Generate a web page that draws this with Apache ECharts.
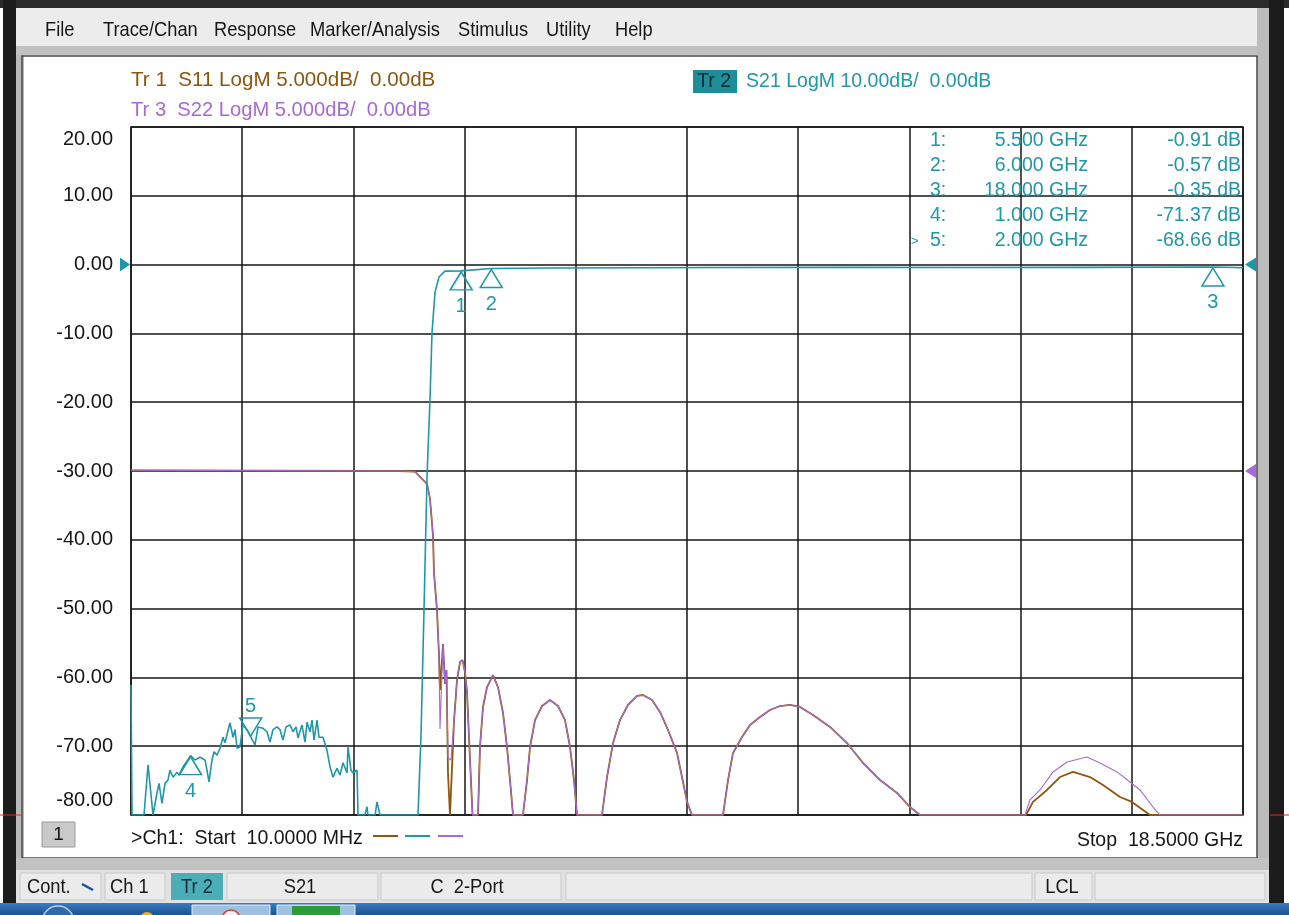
<!DOCTYPE html>
<html><head><meta charset="utf-8">
<script src="https://cdn.jsdelivr.net/npm/echarts@6/dist/echarts.min.js"></script>
<style>html,body{margin:0;padding:0;background:#fff;overflow:hidden}#c{width:1289px;height:915px}</style>
</head><body><div id="c"></div>
<script>
// ---------------- data ----------------
const s21Freq = [0.01,0.027,0.226,0.293,0.376,0.442,0.476,0.525,0.575,0.625,0.658,0.708,0.775,0.808,0.875,1.0,1.074,1.157,1.240,1.274,1.307,1.357,1.390,1.440,1.490,1.540,1.573,1.656,1.706,1.739,1.773,1.822,1.872,1.939,2.0,2.072,2.122,2.205,2.271,2.321,2.371,2.438,2.488,2.537,2.587,2.654,2.704,2.754,2.787,2.853,2.903,2.937,2.987,3.020,3.053,3.103,3.136,3.203,3.269,3.319,3.369,3.436,3.485,3.535,3.602,3.618,3.668,3.701,3.768,3.785,3.90,3.934,3.951,4.07,4.100,4.150,4.782,4.832,4.882,4.932,4.982,5.015,5.065,5.131,5.231,5.5,6.0,7.0,8.5,10.0,12.0,14.0,16.0,18.0,18.5];
const s21dB = [-61.1,-80,-80,-72.7,-80,-76.8,-75.4,-78.3,-75.4,-74.9,-73.5,-74.5,-73.8,-74.2,-73.0,-71.37,-72.0,-71.6,-72.0,-73.5,-75.2,-72.0,-70.8,-71.3,-70.3,-68.7,-69.5,-66.6,-68.7,-67.6,-70.3,-70.1,-66.9,-67.6,-68.66,-69.8,-67.2,-67.4,-67.9,-69.4,-67.6,-67.2,-67.6,-69.1,-67.2,-66.9,-67.9,-67.2,-68.8,-66.9,-69.4,-66.5,-67.9,-66.2,-69.1,-66.2,-68.7,-68.7,-70.6,-73.0,-74.5,-73.2,-74.2,-72.4,-73.9,-70.1,-73.5,-73.9,-73.5,-80,-80,-78.8,-80,-80,-78.1,-80,-80,-68.5,-50.2,-30.9,-19.5,-9.9,-4.0,-1.8,-0.95,-0.91,-0.57,-0.5,-0.45,-0.42,-0.4,-0.42,-0.4,-0.35,-0.45];

const s22Freq = [0.01,4.483,4.732,4.849,4.932,4.982,5.032,5.048,5.098,5.131,5.148,5.198,5.231,5.256,5.281,5.331,5.381,5.431,5.481,5.522,5.564,5.597,5.647,5.689,5.780,
  5.813,5.863,5.930,6.029,6.112,6.196,6.262,6.312,6.362,
  6.528,6.595,6.645,6.728,6.844,6.977,7.110,7.227,7.310,7.376,7.426,
  7.842,7.925,8.025,8.141,8.274,8.424,8.524,8.673,8.806,8.939,9.089,9.172,9.255,9.338,
  9.854,9.937,10.020,10.170,10.303,10.469,10.636,10.802,10.968,11.134,11.350,11.633,11.916,12.182,12.464,12.747,12.963,13.129,
  14.875,14.958,15.125,15.341,15.574,15.906,16.122,16.405,16.621,16.787,17.004,17.120,18.5];
const s22dB = [0.05,0.0,-0.05,-0.58,-0.94,-2.03,-4.72,-7.41,-10.10,-13.37,-18.75,-12.57,-15.48,-14.46,-20.86,-21.0,-18.17,-15.19,-13.88,-13.74,-14.61,-16.06,-21.0,-25,-25,
  -20.06,-17.15,-15.70,-14.83,-15.70,-17.59,-20.06,-22.46,-25,
  -25,-22.46,-20.06,-18.10,-17.08,-16.64,-17.08,-18.10,-20.06,-22.46,-25,
  -25,-22.24,-19.77,-18.10,-17.0,-16.35,-16.28,-16.64,-17.51,-18.82,-20.49,-22.24,-24.05,-25,
  -25,-22.46,-20.49,-19.33,-18.46,-17.88,-17.37,-17.08,-17.0,-17.15,-17.73,-18.6,-19.77,-21.22,-22.46,-23.40,-24.42,-25,
  -25,-23.9,-23.18,-21.87,-21.15,-20.79,-21.22,-21.87,-22.60,-23.18,-24.42,-25,-25];

const s11Freq = [0.01,4.483,4.732,4.849,4.932,4.982,5.032,5.048,5.098,5.131,5.148,5.198,5.231,5.256,5.281,5.314,5.381,5.431,5.481,5.522,5.564,5.597,5.647,5.689,5.780,
  5.813,5.863,5.930,6.029,6.112,6.196,6.262,6.312,6.362,
  6.528,6.595,6.645,6.728,6.844,6.977,7.110,7.227,7.310,7.376,7.426,
  7.842,7.925,8.025,8.141,8.274,8.424,8.524,8.673,8.806,8.939,9.089,9.172,9.255,9.338,
  9.854,9.937,10.020,10.170,10.303,10.469,10.636,10.802,10.968,11.134,11.350,11.633,11.916,12.182,12.464,12.747,12.963,13.129,
  14.892,15.008,15.241,15.457,15.674,15.956,16.172,16.455,16.654,16.837,16.953,18.5];
const s11dB = [0.05,0.0,-0.05,-0.58,-0.94,-2.03,-4.72,-7.41,-10.10,-13.37,-15.92,-12.57,-15.48,-14.46,-22.0,-25,-18.17,-15.19,-13.88,-13.74,-14.61,-16.06,-21.0,-25,-25,
  -20.06,-17.15,-15.70,-14.83,-15.70,-17.59,-20.06,-22.46,-25,
  -25,-22.46,-20.06,-18.10,-17.08,-16.64,-17.08,-18.10,-20.06,-22.46,-25,
  -25,-22.24,-19.77,-18.10,-17.0,-16.35,-16.28,-16.64,-17.51,-18.82,-20.49,-22.24,-24.05,-25,
  -25,-22.46,-20.49,-19.33,-18.46,-17.88,-17.37,-17.08,-17.0,-17.15,-17.73,-18.6,-19.77,-21.22,-22.46,-23.40,-24.42,-25,
  -25,-24.05,-23.18,-22.24,-21.87,-22.24,-22.82,-23.69,-24.05,-24.64,-25,-25];

const markerNums = ['1','2','3','4','5'];
const markerFreqGHz = [5.5, 6.0, 18.0, 1.0, 2.0];
const markerDB = [-0.91, -0.57, -0.35, -71.37, -68.66];
const markerFreqText = ['5.500 GHz','6.000 GHz','18.000 GHz','1.000 GHz','2.000 GHz'];
const markerValText = ['-0.91 dB','-0.57 dB','-0.35 dB','-71.37 dB','-68.66 dB'];

const menuItems = ['File','Trace/Chan','Response','Marker/Analysis','Stimulus','Utility','Help'];
const traceHeaders = ['Tr 1  S11 LogM 5.000dB/  0.00dB','S21 LogM 10.00dB/  0.00dB','Tr 3  S22 LogM 5.000dB/  0.00dB'];
const yTickMin = -80, yTickMax = 20, yTickStep = 10;

// ---------------- layout / style ----------------
const TEAL = '#1e98a8', BROWN = '#8e560f', PURPLE = '#a66ad6', INK = '#161616';
const FF = '"Liberation Sans", Arial, sans-serif';
const menuX = [45,103,214,310,458,546,615];

const zip = (a,b) => a.map((v,i)=>[v,b[i]]);
const upTri = 'path://M10,0 L20,18 L0,18 Z';
const downTri = 'path://M0,0 L20,0 L10,18 Z';

function txt(text, x, y, o) {
  o = o || {};
  return {type:'text', x:x, y:y, scaleX:o.sx||1, z:50,
    style:{text:text, fill:o.c||INK, fontSize:o.fs||20, fontFamily:FF, fontWeight:o.w||'normal',
      align:o.a||'left', verticalAlign:'middle'}};
}
function rect(x,y,w,h,fill,stroke,lw,z){
  return {type:'rect', shape:{x:x,y:y,width:w,height:h}, z:z||1,
    style:{fill:fill||'none', stroke:stroke||null, lineWidth:lw||1}};
}
function line(x1,y1,x2,y2,c,w,z){
  return {type:'line', shape:{x1:x1,y1:y1,x2:x2,y2:y2}, z:z||40, style:{stroke:c,lineWidth:w||1}};
}

const chart = echarts.init(document.getElementById('c'), null, {renderer:'canvas', width:1289, height:915});

const markerData = markerNums.map((n,i)=>({
  name:n, coord:[markerFreqGHz[i], markerDB[i]],
  symbol: i===4 ? downTri : upTri,
  symbolSize:[22,18],
  symbolOffset: i===4 ? [0,-10] : [0,10],
  label:{position: i===4 ? 'top' : 'bottom', distance: i===4 ? 1 : 6}
}));

const option = {
  animation:false,
  backgroundColor:'#ffffff',
  grid:{left:131, top:127, width:1112, height:688, show:true, borderColor:INK, borderWidth:1.5, backgroundColor:'transparent'},
  xAxis:[
    {type:'value', min:0.01, max:18.5, show:false},
    {type:'value', min:0, max:10, interval:1, position:'bottom',
     axisLine:{show:false}, axisTick:{show:false}, axisLabel:{show:false},
     splitLine:{show:true, lineStyle:{color:INK, width:1.5}}}
  ],
  yAxis:[
    {type:'value', min:yTickMin, max:yTickMax, interval:yTickStep,
     axisLine:{show:false}, axisTick:{show:false},
     axisLabel:{show:true, showMinLabel:true, showMaxLabel:true, margin:18, color:INK, fontSize:20, fontFamily:FF,
       formatter:function(v){
         if (v===yTickMax) return '{t|'+v.toFixed(2)+'}';
         if (v===yTickMin) return '{b|'+v.toFixed(2)+'}';
         return v.toFixed(2);
       },
       rich:{t:{fontSize:20,fontFamily:FF,color:INK,padding:[24,0,0,0]}, b:{fontSize:20,fontFamily:FF,color:INK,padding:[0,0,30,0]}}},
     splitLine:{show:true, lineStyle:{color:INK, width:1.5}}},
    {type:'value', min:-25, max:25, show:false}
  ],
  series:[
    {name:'S11', type:'line', xAxisIndex:0, yAxisIndex:1, data:zip(s11Freq,s11dB), symbol:'none', z:3,
     lineStyle:{color:BROWN, width:1.8}},
    {name:'S22', type:'line', xAxisIndex:0, yAxisIndex:1, data:zip(s22Freq,s22dB), symbol:'none', z:4,
     lineStyle:{color:PURPLE, width:1.1}},
    {name:'S21', type:'line', xAxisIndex:0, yAxisIndex:0, data:zip(s21Freq,s21dB), symbol:'none', z:5,
     lineStyle:{color:TEAL, width:1.6},
     markPoint:{data:markerData, itemStyle:{color:'rgba(0,0,0,0)', borderColor:TEAL, borderWidth:1.5},
       label:{show:true, formatter:'{b}', color:TEAL, fontSize:20, fontFamily:FF}}}
  ]
};
chart.setOption(option);

// ---------------- chrome & texts ----------------
const g = [];
g.push(rect(0,0,1289,8,'#2b2b2b'));
g.push(rect(3,0,13,905,'#1c1c1c'));
g.push(rect(16,8,8,862,'#b9b9b9'));
g.push(rect(16,8,1253,38,'#ececec'));
g.push(rect(16,46,1253,9,'#c2c2c2'));
g.push(rect(1257,8,12,895,'#bcbcbc'));
g.push(rect(1269,0,15,905,'#1c1c1c'));
g.push(rect(22,56,1235,802,null,'#4a4a4a',1.5));
g.push(rect(16,858,1253,12,'#c2c2c2'));
g.push(rect(16,870,1253,33,'#e2e2e2'));
g.push({type:'rect', shape:{x:0,y:903,width:1289,height:12}, z:1,
  style:{fill:new echarts.graphic.LinearGradient(0,0,0,1,[{offset:0,color:'#3a7cc0'},{offset:1,color:'#1b5290'}])}});
g.push({type:'circle', shape:{cx:58,cy:922,r:16}, z:2, style:{fill:'#2f6aa8', stroke:'#b8cfe6', lineWidth:1.5}});
g.push(rect(192,905,78,12,'#9fc0df','#e4eef8',1,2));
g.push({type:'circle', shape:{cx:231,cy:919,r:9}, z:3, style:{fill:'#f4f4f4', stroke:'#d04040', lineWidth:1.5}});
g.push(rect(277,905,78,12,'#9fc0df','#e4eef8',1,2));
g.push(rect(292,906,48,10,'#2f9a3a',null,1,3));
g.push({type:'circle', shape:{cx:147,cy:919,r:7}, z:3, style:{fill:'#f0b020'}});
g.push(line(0,815,22,815,'#d03030',1,2));
g.push(line(1270,815,1289,815,'#d03030',1,2));

menuItems.forEach((m,i)=>g.push(txt(m, menuX[i], 30, {fs:21, sx:0.87})));

g.push(txt(traceHeaders[0], 131, 80, {fs:21, sx:0.98, c:BROWN}));
g.push(rect(693,70,44,23,'#1f8e98',null,1,10));
g.push(txt('Tr 2', 697, 81, {fs:21, sx:0.93, c:'#0c2a34'}));
g.push(txt(traceHeaders[1], 746, 81, {fs:21, sx:0.93, c:TEAL}));
g.push(txt(traceHeaders[2], 131, 110, {fs:21, sx:0.96, c:PURPLE}));

const rowY = [141,166,191,216,241];
markerNums.forEach((n,i)=>{
  g.push(txt(n+':', 930, rowY[i], {fs:19.5, c:TEAL}));
  g.push(txt(markerFreqText[i], 1088, rowY[i], {fs:19.5, c:TEAL, a:'right'}));
  g.push(txt(markerValText[i], 1241, rowY[i], {fs:19.5, c:TEAL, a:'right'}));
});
g.push(txt('>', 911, 241, {fs:13, c:TEAL}));

g.push(rect(42,822,33,25,'#c9c9c9','#9a9a9a',1,10));
g.push(txt('1', 58.5, 835, {fs:19, a:'center'}));
g.push(txt('>Ch1:  Start  10.0000 MHz', 131, 838, {fs:21, sx:0.93}));
g.push(line(373,836,398,836,BROWN,2));
g.push(line(405,836,430,836,TEAL,2));
g.push(line(438,836,463,836,PURPLE,2));
g.push(txt('Stop  18.5000 GHz', 1243, 840, {fs:21, sx:0.93, a:'right'}));

const segs = [[20,81],[105,60],[227,151],[381,180],[566,466],[1035,57],[1095,170]];
segs.forEach(s=>g.push(rect(s[0],873,s[1],27,'#ebebeb','#c9c9c9',1,3)));
g.push(rect(171,873,52,27,'#4aaeb8',null,1,4));
g.push(txt('Cont.', 27, 887, {fs:21, sx:0.87}));
g.push(line(82,884,93,890,'#1f4fa0',2.5));
g.push(txt('Ch 1', 110, 887, {fs:21, sx:0.87}));
g.push(txt('Tr 2', 197, 887, {fs:21, sx:0.87, a:'center', c:'#0e2a33'}));
g.push(txt('S21', 300, 887, {fs:21, sx:0.87, a:'center'}));
g.push(txt('C  2-Port', 467, 887, {fs:21, sx:0.87, a:'center'}));
g.push(txt('LCL', 1062, 887, {fs:21, sx:0.87, a:'center'}));

const pL = chart.convertToPixel({xAxisIndex:0, yAxisIndex:0}, [0.01, 0]);
const pR = chart.convertToPixel({xAxisIndex:0, yAxisIndex:0}, [18.5, 0]);
const pP = chart.convertToPixel({xAxisIndex:0, yAxisIndex:1}, [18.5, 0]);
g.push({type:'polygon', z:30, shape:{points:[[pL[0]-11,pL[1]-7],[pL[0]-1,pL[1]],[pL[0]-11,pL[1]+7]]}, style:{fill:TEAL}});
g.push({type:'polygon', z:30, shape:{points:[[pR[0]+13,pR[1]-7],[pR[0]+2,pR[1]],[pR[0]+13,pR[1]+7]]}, style:{fill:TEAL}});
g.push({type:'polygon', z:30, shape:{points:[[pP[0]+13,pP[1]-7],[pP[0]+2,pP[1]],[pP[0]+13,pP[1]+7]]}, style:{fill:PURPLE}});

chart.setOption({graphic:{elements:g}});
</script></body></html>
